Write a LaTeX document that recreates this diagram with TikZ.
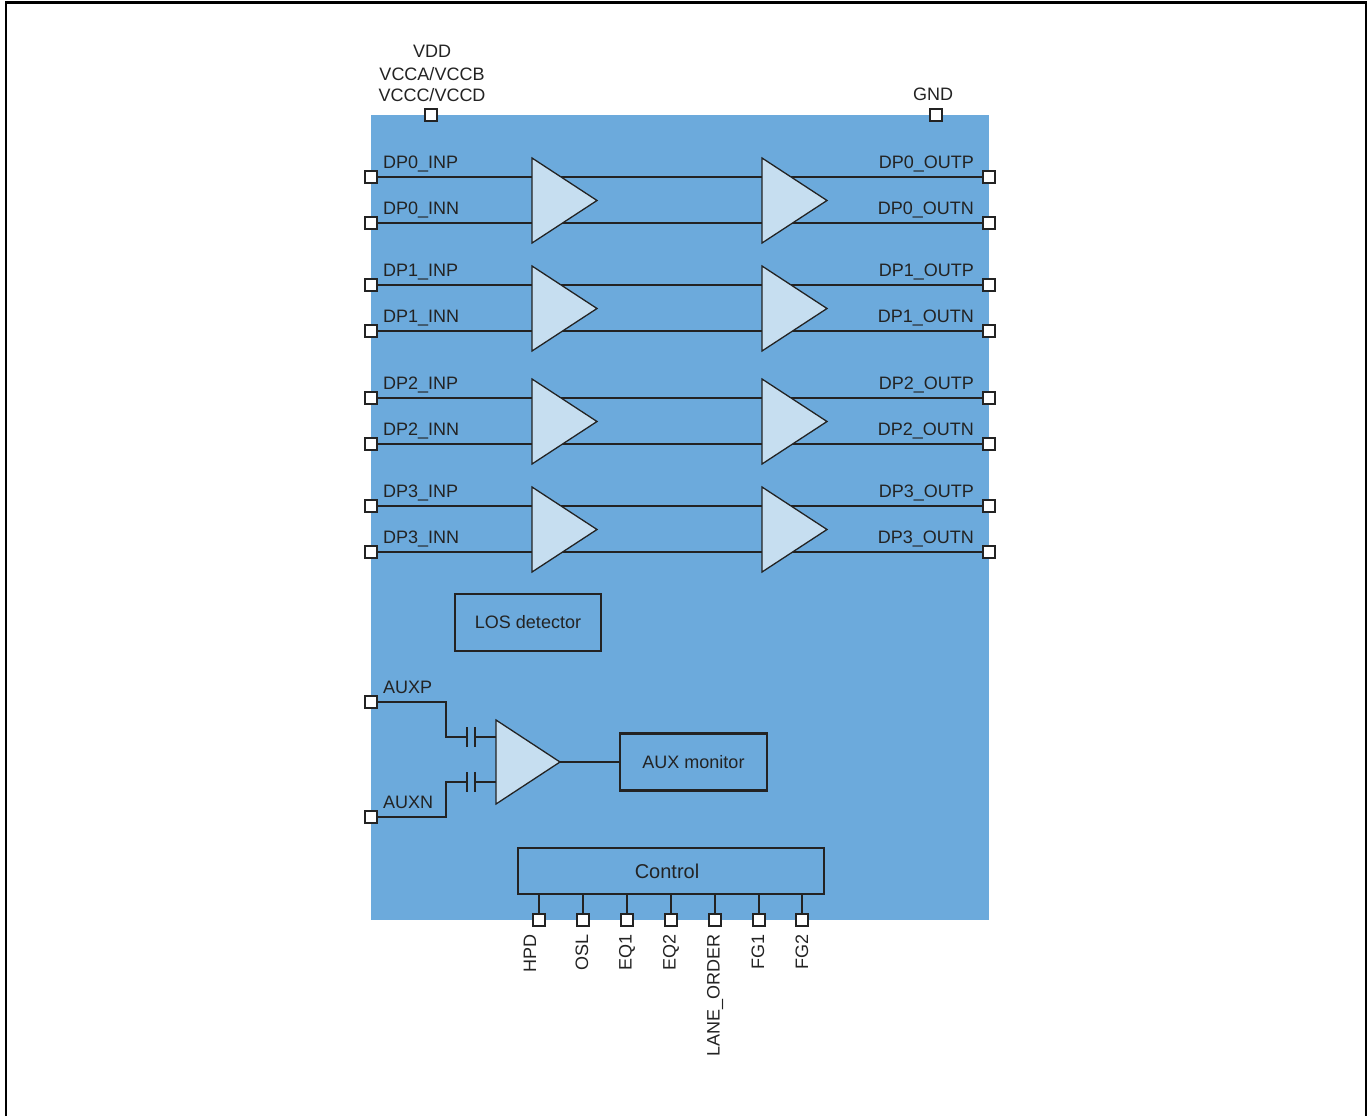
\documentclass[tikz,border=0pt]{standalone}
\usepackage{fontspec}
\setmainfont{Liberation Sans}
\definecolor{chipblue}{RGB}{108,170,220}
\definecolor{ampfill}{RGB}{198,222,240}
\definecolor{ink}{RGB}{35,35,35}
\begin{document}
\begin{tikzpicture}[x=1pt,y=-1pt,
  font=\fontsize{18}{21}\selectfont,
  pin/.style={rectangle,draw=ink,fill=white,line width=1.5pt,minimum size=12pt,inner sep=0pt},
  wire/.style={draw=ink,line width=1.7pt},
  box/.style={rectangle,draw=ink,line width=2.2pt,inner sep=0pt,text=ink},
  amp/.style={draw=ink,line width=1.3pt,fill=ampfill,line join=miter},
  lbl/.style={inner sep=0pt,text=ink},
  plate/.style={draw=ink,line width=2.8pt}]
\useasboundingbox[fill=white] (0,0) rectangle (1367,1116);
\draw[line width=2.2pt] (6,1116) -- (6,2.5) -- (1366,2.5) -- (1366,1116);
% chip body
\fill[chipblue] (371,115) rectangle (989,920);
% supply pins
\node[pin] (vdd) at (431,115) {};
\node[pin] (gnd) at (936,115) {};
\node[lbl,anchor=base] (vddl1) at (432,58) {VDD};
\node[lbl,anchor=base] (vddl2) at (432,80) {VCCA/VCCB};
\node[lbl,anchor=base] (vddl3) at (432,101) {VCCC/VCCD};
\node[lbl,anchor=base] (gndl) at (933,100) {GND};
% data lanes
\foreach \i/\yp in {0/177,1/285,2/398,3/506}{
  \pgfmathsetmacro{\yn}{\yp+46}
  \pgfmathsetmacro{\yt}{\yp-19}
  \pgfmathsetmacro{\yb}{\yn+20}
  \pgfmathsetmacro{\ym}{(\yt+\yb)/2}
  \node[pin] (lp\i) at (371,\yp) {};
  \node[pin] (ln\i) at (371,\yn) {};
  \node[pin] (rp\i) at (989,\yp) {};
  \node[pin] (rn\i) at (989,\yn) {};
  \draw[wire] (lp\i) -- (rp\i);
  \draw[wire] (ln\i) -- (rn\i);
  \draw[amp] (532,\yt) -- (597,\ym) -- (532,\yb) -- cycle;
  \draw[amp] (762,\yt) -- (827,\ym) -- (762,\yb) -- cycle;
  \node[lbl,anchor=base west] (lpl\i) at (383,\yp-9) {DP\i\_INP};
  \node[lbl,anchor=base west] (lnl\i) at (383,\yn-9) {DP\i\_INN};
  \node[lbl,anchor=base east] (rpl\i) at (974,\yp-9) {DP\i\_OUTP};
  \node[lbl,anchor=base east] (rnl\i) at (974,\yn-9) {DP\i\_OUTN};
}
% LOS detector
\node[box,minimum width=146pt,minimum height=57pt] (los) at (528,622.5) {LOS detector};
% AUX channel
\node[pin] (auxp) at (371,702) {};
\node[pin] (auxn) at (371,817) {};
\node[lbl,anchor=base west] (auxpl) at (383,693) {AUXP};
\node[lbl,anchor=base west] (auxnl) at (383,808) {AUXN};
\coordinate (cp1) at (467,737);
\coordinate (cp2) at (475,737);
\coordinate (cn1) at (467,782);
\coordinate (cn2) at (475,782);
\draw[wire] (auxp) -- (446,702) -- (446,737) -- (cp1);
\draw[wire] (auxn) -- (446,817) -- (446,782) -- (cn1);
\draw[wire] (cp2) -- (498,737);
\draw[wire] (cn2) -- (498,782);
\draw[plate] (467,727) -- (467,747) (475,727) -- (475,747);
\draw[plate] (467,772) -- (467,792) (475,772) -- (475,792);
\draw[amp] (496,720) -- (560,762) -- (496,804) -- cycle;
\coordinate (auxtip) at (560,762);
\node[box,minimum width=147pt,minimum height=57pt] (auxmon) at (693.5,762) {AUX monitor};
\draw[wire] (auxtip) -- (auxmon.west);
% Control
\node[box,minimum width=306pt,minimum height=46pt,font=\fontsize{20}{24}\selectfont,text width=306pt,align=center] (ctl) at (671,871) {\hspace*{-8pt}Control};
\foreach \n/\x/\lx/\t in {c1/539/530/HPD,c2/583/582/OSL,c3/627/627/EQ1,c4/671/671/EQ2,c5/715/715/LANE\_ORDER,c6/759/758/FG1,c7/802/802/FG2}{
  \node[pin] (\n) at (\x,920) {};
  \draw[wire] (ctl.south -| \n) -- (\n);
  \node[lbl,rotate=90,anchor=east] (\n l) at (\lx,934) {\t};
}
\end{tikzpicture}
\end{document}
